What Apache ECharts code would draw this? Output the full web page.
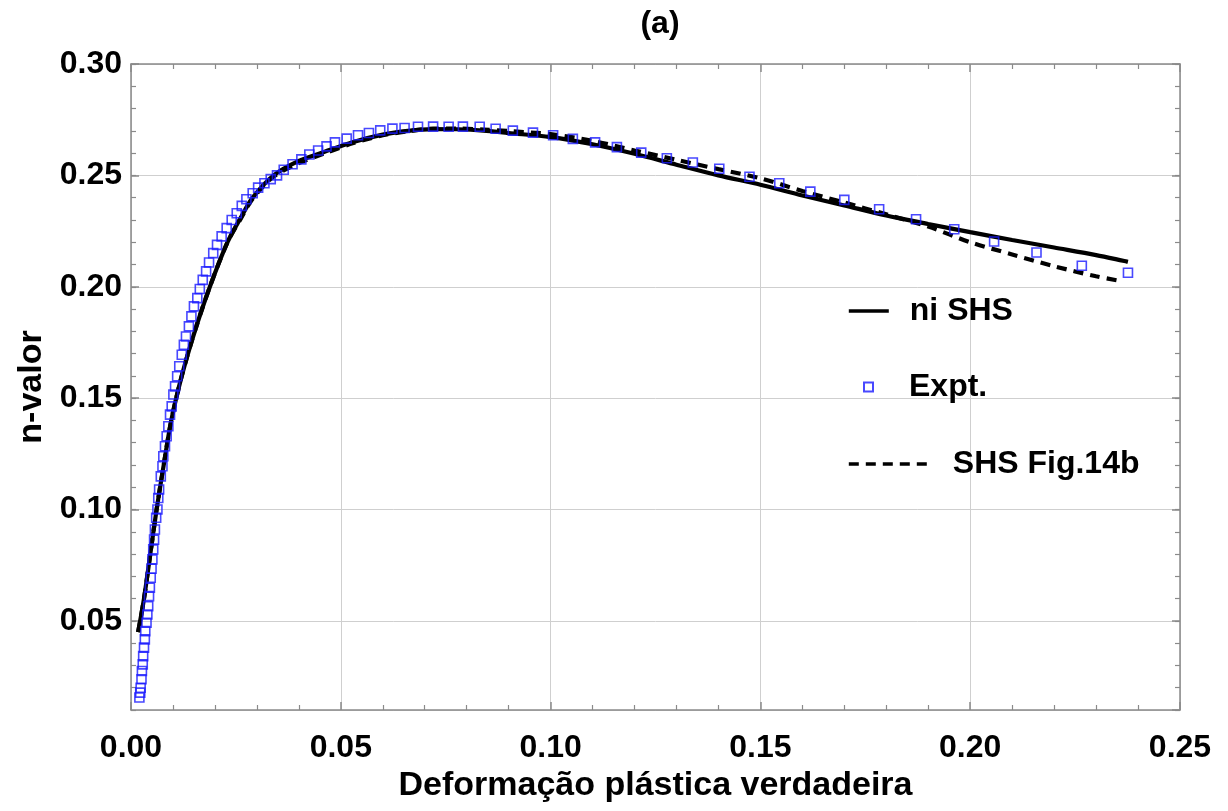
<!DOCTYPE html>
<html>
<head>
<meta charset="utf-8">
<title>n-valor</title>
<script src="https://cdn.jsdelivr.net/npm/echarts@6/dist/echarts.min.js"></script>
<style>
  html, body { margin: 0; padding: 0; background: #fff; }
  #chart { width: 1228px; height: 811px; }
</style>
</head>
<body>
<div id="chart"></div>
<script>
// ---------------- dados ----------------
var xTicks = [0.00, 0.05, 0.10, 0.15, 0.20, 0.25]
var yTicks = [0.05, 0.10, 0.15, 0.20, 0.25, 0.30]

// Expt. (quadrados azuis)
var expStrain = [
  0.0020, 0.0022, 0.0023, 0.0025, 0.0026, 0.0028, 0.0029, 0.0031, 0.0033, 0.0034,
  0.0037, 0.0039, 0.0041, 0.0043, 0.0045, 0.0047, 0.0049, 0.0051, 0.0053, 0.0055,
  0.0057, 0.0060, 0.0063, 0.0065, 0.0067, 0.0071, 0.0075, 0.0077, 0.0081, 0.0085,
  0.0089, 0.0093, 0.0097, 0.0101, 0.0105, 0.0110, 0.0115, 0.0121, 0.0126, 0.0131,
  0.0138, 0.0144, 0.0150, 0.0158, 0.0164, 0.0171, 0.0179, 0.0186, 0.0196, 0.0205,
  0.0216, 0.0228, 0.0240, 0.0252, 0.0264, 0.0275, 0.0290, 0.0303, 0.0318, 0.0333,
  0.0348, 0.0364, 0.0385, 0.0406, 0.0425, 0.0446, 0.0466, 0.0486, 0.0514, 0.0541,
  0.0567, 0.0594, 0.0623, 0.0652, 0.0684, 0.0720, 0.0757, 0.0791, 0.0831, 0.0869,
  0.0910, 0.0958, 0.1006, 0.1053, 0.1106, 0.1158, 0.1216, 0.1277, 0.1339, 0.1402,
  0.1474, 0.1545, 0.1619, 0.1700, 0.1783, 0.1871, 0.1962, 0.2057, 0.2158, 0.2266,
  0.2376
]
var expN = [
  0.0156, 0.0178, 0.0200, 0.0238, 0.0275, 0.0305, 0.0342, 0.0380, 0.0417, 0.0454,
  0.0492, 0.0529, 0.0566, 0.0611, 0.0649, 0.0694, 0.0734, 0.0776, 0.0821, 0.0865,
  0.0910, 0.0963, 0.1000, 0.1052, 0.1090, 0.1149, 0.1194, 0.1239, 0.1284, 0.1329,
  0.1374, 0.1426, 0.1463, 0.1516, 0.1553, 0.1598, 0.1643, 0.1695, 0.1740, 0.1777,
  0.1822, 0.1867, 0.1912, 0.1949, 0.1990, 0.2031, 0.2069, 0.2109, 0.2151, 0.2188,
  0.2226, 0.2263, 0.2300, 0.2330, 0.2363, 0.2393, 0.2420, 0.2445, 0.2465, 0.2483,
  0.2500, 0.2525, 0.2550, 0.2572, 0.2594, 0.2612, 0.2630, 0.2648, 0.2665, 0.2680,
  0.2690, 0.2702, 0.2710, 0.2713, 0.2718, 0.2719, 0.2718, 0.2719, 0.2718, 0.2709,
  0.2701, 0.2692, 0.2680, 0.2664, 0.2648, 0.2627, 0.2602, 0.2577, 0.2558, 0.2530,
  0.2494, 0.2465, 0.2427, 0.2390, 0.2348, 0.2303, 0.2258, 0.2203, 0.2154, 0.2094,
  0.2063
]

// ni SHS (linha contínua)
var niStrain = [
  0.0017, 0.0031, 0.0046, 0.0061, 0.0078, 0.0096, 0.0121, 0.0152, 0.0188, 0.0230,
  0.0260, 0.0290, 0.0340, 0.0400, 0.0460, 0.0530, 0.0600, 0.0660, 0.0720, 0.0780,
  0.0840, 0.0900, 0.1000, 0.1100, 0.1200, 0.1300, 0.1400, 0.1500, 0.1600, 0.1700,
  0.1800, 0.1900, 0.2000, 0.2100, 0.2200, 0.2300, 0.2376
]
var niN = [
  0.0450, 0.0600, 0.0800, 0.1000, 0.1200, 0.1400, 0.1600, 0.1800, 0.2000, 0.2200,
  0.2305, 0.2400, 0.2500, 0.2565, 0.2605, 0.2650, 0.2683, 0.2700, 0.2708, 0.2707,
  0.2701, 0.2690, 0.2672, 0.2640, 0.2597, 0.2548, 0.2500, 0.2458, 0.2410, 0.2365,
  0.2320, 0.2282, 0.2245, 0.2210, 0.2176, 0.2142, 0.2112
]

// SHS Fig.14b (tracejada)
var figStrain = [
  0.0017, 0.0031, 0.0046, 0.0061, 0.0078, 0.0096, 0.0121, 0.0152, 0.0188, 0.0230,
  0.0260, 0.0290, 0.0340, 0.0400, 0.0460, 0.0530, 0.0600, 0.0660, 0.0720, 0.0780,
  0.0840, 0.0900, 0.1000, 0.1100, 0.1200, 0.1300, 0.1400, 0.1500, 0.1600, 0.1700,
  0.1800, 0.1900, 0.2000, 0.2100, 0.2200, 0.2300, 0.2355
]
var figN = [
  0.0450, 0.0600, 0.0800, 0.1000, 0.1200, 0.1400, 0.1600, 0.1800, 0.2000, 0.2200,
  0.2300, 0.2395, 0.2495, 0.2555, 0.2598, 0.2645, 0.2680, 0.2698, 0.2710, 0.2710,
  0.2706, 0.2699, 0.2685, 0.2655, 0.2612, 0.2570, 0.2528, 0.2487, 0.2430, 0.2378,
  0.2325, 0.2270, 0.2200, 0.2145, 0.2092, 0.2047, 0.2027
]

// ---------------- montagem ----------------
function pairs(xs, ys) {
  var out = []
  for (var i = 0; i < xs.length; i++) out.push([xs[i], ys[i]])
  return out
}

var FONT = '"Liberation Sans", Arial, sans-serif'
var frameColor = '#8a8a8a'
var gridColor = '#cfcfcf'
var labelStyle = { fontFamily: FONT, fontWeight: 'bold', fontSize: 32, color: '#000' }
// legenda das linhas: sem o círculo que o ECharts desenha por padrão
var noSymbol = { color: 'rgba(0,0,0,0)', borderWidth: 0, opacity: 0 }

var yMin = 0.01, yMax = 0.30

var chart = echarts.init(document.getElementById('chart'), null, { renderer: 'canvas' })

var option = {
  animation: false,
  backgroundColor: '#fff',
  title: {
    text: '(a)',
    left: 655, top: 3, textAlign: 'center',
    textStyle: { fontFamily: FONT, fontWeight: 'bold', fontSize: 32, color: '#000' }
  },
  grid: { left: 131, right: 48, top: 64, bottom: 101, containLabel: false },
  legend: [
    {
      data: ['ni SHS'], left: 847, top: 291, padding: 0,
      itemWidth: 40, itemHeight: 14, selectedMode: false,
      itemStyle: noSymbol,
      lineStyle: { width: 3.6 },
      textStyle: Object.assign({}, labelStyle, { lineHeight: 40, padding: [0, 0, 0, 16] })
    },
    {
      data: ['Expt.'], left: 863, top: 367, padding: 0,
      itemWidth: 9, itemHeight: 9, selectedMode: false,
      textStyle: Object.assign({}, labelStyle, { lineHeight: 40, padding: [0, 0, 0, 31] })
    },
    {
      data: ['SHS Fig.14b'], left: 847, top: 444, padding: 0,
      itemWidth: 80, itemHeight: 14, selectedMode: false,
      itemStyle: noSymbol,
      lineStyle: { width: 3.6 },
      textStyle: Object.assign({}, labelStyle, { lineHeight: 40, padding: [0, 0, 0, 19] })
    }
  ],
  xAxis: [
    {
      type: 'value', min: xTicks[0], max: xTicks[xTicks.length - 1], interval: 0.05,
      name: 'Deformação plástica verdadeira', nameLocation: 'middle', nameGap: 58,
      nameTextStyle: { fontFamily: FONT, fontWeight: 'bold', fontSize: 34, color: '#000' },
      axisLine: { show: true, lineStyle: { color: frameColor, width: 1.5 } },
      axisTick: { show: true, inside: true, length: 8, lineStyle: { color: frameColor, width: 1.5 } },
      minorTick: { show: true, splitNumber: 5, length: 5, lineStyle: { color: frameColor, width: 1.2 } },
      splitLine: { show: true, lineStyle: { color: gridColor, width: 1 } },
      axisLabel: Object.assign({}, labelStyle, { margin: 22, formatter: function (v) { return v.toFixed(2) } })
    },
    {
      type: 'value', position: 'top', min: xTicks[0], max: xTicks[xTicks.length - 1], interval: 0.05,
      axisLine: { show: true, lineStyle: { color: frameColor, width: 1.5 } },
      axisTick: { show: true, inside: true, length: 8, lineStyle: { color: frameColor, width: 1.5 } },
      minorTick: { show: true, splitNumber: 5, length: 5, lineStyle: { color: frameColor, width: 1.2 } },
      splitLine: { show: false },
      axisLabel: { show: false }
    }
  ],
  yAxis: [
    {
      // eixo principal: rótulos, grade e marcas maiores
      type: 'value', min: yMin, max: yMax, splitNumber: 5,
      name: 'n-valor', nameLocation: 'middle', nameGap: 82,
      nameTextStyle: { fontFamily: FONT, fontWeight: 'bold', fontSize: 34, color: '#000' },
      axisLine: { show: true, lineStyle: { color: frameColor, width: 1.5 } },
      axisTick: { show: true, inside: true, length: 8, lineStyle: { color: frameColor, width: 1.5 } },
      splitLine: { show: true, lineStyle: { color: gridColor, width: 1 } },
      axisLabel: Object.assign({}, labelStyle, {
        margin: 9, showMinLabel: false,
        formatter: function (v) { return yTicks.indexOf(+v.toFixed(2)) >= 0 ? v.toFixed(2) : '' }
      })
    },
    {
      // marcas menores à esquerda (0.01)
      type: 'value', min: yMin, max: yMax, interval: 0.01, position: 'left',
      axisLine: { show: false },
      axisTick: { show: true, inside: true, length: 5, lineStyle: { color: frameColor, width: 1.2 } },
      splitLine: { show: false }, axisLabel: { show: false }
    },
    {
      type: 'value', min: yMin, max: yMax, splitNumber: 5, position: 'right',
      axisLine: { show: true, lineStyle: { color: frameColor, width: 1.5 } },
      axisTick: { show: true, inside: true, length: 8, lineStyle: { color: frameColor, width: 1.5 } },
      splitLine: { show: false }, axisLabel: { show: false }
    },
    {
      type: 'value', min: yMin, max: yMax, interval: 0.01, position: 'right',
      axisLine: { show: false },
      axisTick: { show: true, inside: true, length: 5, lineStyle: { color: frameColor, width: 1.2 } },
      splitLine: { show: false }, axisLabel: { show: false }
    }
  ],
  series: [
    {
      name: 'ni SHS', type: 'line', xAxisIndex: 0, yAxisIndex: 0,
      data: pairs(niStrain, niN), symbol: 'none', smooth: 0.3, z: 3,
      lineStyle: { color: '#000', width: 4.2, type: 'solid' },
      itemStyle: { color: '#000' }
    },
    {
      name: 'Expt.', type: 'scatter', xAxisIndex: 0, yAxisIndex: 0,
      data: pairs(expStrain, expN), symbol: 'rect', symbolSize: 9, z: 5,
      itemStyle: { color: 'rgba(255,255,255,0)', borderColor: '#1a1aff', borderWidth: 1.6 }
    },
    {
      name: 'SHS Fig.14b', type: 'line', xAxisIndex: 0, yAxisIndex: 0,
      data: pairs(figStrain, figN), symbol: 'none', smooth: 0.3, z: 4,
      lineStyle: { color: '#000', width: 4.2, type: [10, 7] },
      itemStyle: { color: '#000' }
    }
  ]
}

chart.setOption(option)
</script>
</body>
</html>
